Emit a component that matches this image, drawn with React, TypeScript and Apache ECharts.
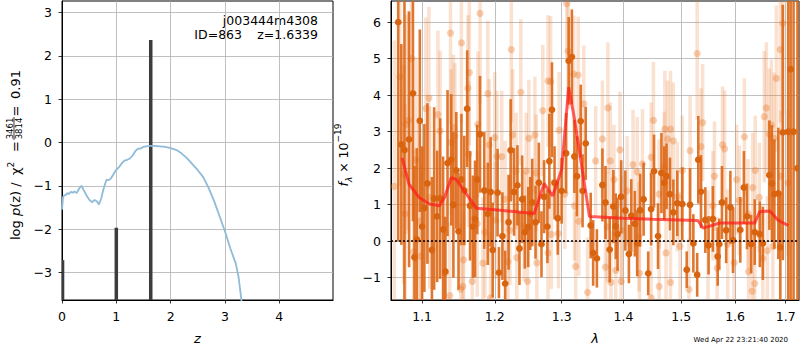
import React, { useEffect, useRef } from 'react';
import * as echarts from 'echarts';

// ---------- left panel: redshift PDF ----------
const PZ_CURVE: [number, number][] = [
  [0.0, -1.55], [0.02, -1.25], [0.05, -1.22], [0.08, -1.2], [0.1, -1.17], [0.13, -1.19], [0.16, -1.14],
  [0.2, -1.16], [0.23, -1.13], [0.27, -1.17], [0.3, -1.1], [0.33, -1.04], [0.36, -1.0], [0.4, -1.1],
  [0.45, -1.22], [0.5, -1.32], [0.55, -1.38], [0.6, -1.33], [0.64, -1.36], [0.68, -1.43], [0.72, -1.3],
  [0.76, -1.1], [0.8, -0.93], [0.82, -0.86], [0.86, -0.87], [0.9, -0.83], [0.95, -0.73], [1.0, -0.63],
  [1.05, -0.57], [1.1, -0.48], [1.15, -0.42], [1.2, -0.4], [1.25, -0.37], [1.3, -0.3], [1.35, -0.2],
  [1.4, -0.14], [1.45, -0.14], [1.5, -0.1], [1.55, -0.09], [1.6, -0.08], [1.7, -0.08], [1.8, -0.09],
  [1.9, -0.1], [2.0, -0.13], [2.1, -0.17], [2.2, -0.25], [2.3, -0.36], [2.4, -0.5], [2.5, -0.64],
  [2.6, -0.8], [2.7, -1.05], [2.8, -1.35], [2.9, -1.7], [3.0, -2.05], [3.1, -2.45], [3.2, -2.8],
  [3.25, -3.1], [3.3, -3.6], [3.35, -4.2],
];
const PEAK_Z = [0.01, 1.0, 1.634];
const PEAK_LOGP = [-2.72, -1.97, 2.37];
const LEFT_X_TICKS = [0, 1, 2, 3, 4];
const LEFT_Y_TICKS = [-3, -2, -1, 0, 1, 2, 3];
const LEFT_X_RANGE = [0, 4.99];
const LEFT_Y_RANGE = [-3.64, 3.27];

// ---------- right panel: spectrum ----------
const RIGHT_X_TICKS = [1.1, 1.2, 1.3, 1.4, 1.5, 1.6, 1.7];
const RIGHT_Y_TICKS = [-1, 0, 1, 2, 3, 4, 5, 6];
const RIGHT_X_RANGE = [1.0598, 1.7272];
const RIGHT_Y_RANGE = [-1.61, 6.58];

const MODEL: [number, number][] = [
  [1.074, 2.28], [1.083, 1.56], [1.096, 1.2], [1.11, 1.02], [1.123, 0.97], [1.13, 1.2], [1.139, 1.74],
  [1.146, 1.69], [1.16, 1.29], [1.174, 0.9], [1.2, 0.86], [1.258, 0.76], [1.273, 1.58], [1.286, 1.24],
  [1.3, 1.96], [1.311, 4.22], [1.32, 3.36], [1.332, 2.01], [1.344, 0.68], [1.4, 0.63], [1.45, 0.6],
  [1.53, 0.57], [1.54, 0.36], [1.571, 0.5], [1.638, 0.5], [1.648, 0.81], [1.668, 0.83], [1.685, 0.57],
  [1.705, 0.43],
];

// [lambda, flux, error]
const DARK: [number, number, number][] = [
  [1.069, 6.0, 6], [1.073, 2.65, 2.75], [1.077, 2.5, 4.5], [1.083, 2.79, 3.5], [1.088, 4.05, 3.5],
  [1.09, -0.44, 2.5], [1.093, 0.05, 2.5], [1.097, 3.3, 2.5], [1.1, 0.4, 2.2], [1.103, 0.91, 2.3],
  [1.107, 1.58, 2.2], [1.113, -0.24, 2.0], [1.116, 1.17, 2.5], [1.12, 0.68, 1.8], [1.124, 1.17, 2.2],
  [1.128, 0.32, 2.0], [1.131, -0.83, 1.5], [1.134, 2.14, 2.0], [1.139, 2.23, 1.8], [1.142, 1.0, 2.0],
  [1.146, 1.94, 1.6], [1.149, 0.27, 1.6], [1.153, 1.69, 1.8], [1.157, 1.39, 1.5], [1.161, 3.63, 1.6],
  [1.165, 0.97, 1.5], [1.169, 0.4, 1.4], [1.172, 0.61, 1.6], [1.175, 1.69, 1.5], [1.179, 2.93, 1.6],
  [1.185, 1.39, 1.6], [1.19, 0.75, 1.4], [1.194, 1.35, 1.5], [1.197, -0.24, 1.3],
  [1.204, 1.33, 1.2], [1.206, -0.86, 0.7], [1.211, 0.14, 1.2], [1.215, -1.16, 0.9], [1.22, 0.52, 1.3],
  [1.223, 2.49, 1.4], [1.228, 1.35, 1.2], [1.233, 1.53, 1.1], [1.236, -0.2, 1.0], [1.24, 1.15, 1.2],
  [1.244, 0.25, 1.0], [1.249, 0.39, 1.1], [1.252, 0.76, 1.0], [1.255, 1.06, 1.2], [1.26, 0.52, 1.0],
  [1.265, 1.6, 1.1], [1.269, -0.08, 0.9], [1.273, 1.22, 1.0], [1.278, 0.4, 1.0], [1.281, 2.19, 1.3],
  [1.285, 3.6, 1.3], [1.289, 1.6, 1.0], [1.294, 0.63, 1.0], [1.3, 1.38, 0.9], [1.307, 2.41, 1.1],
  [1.311, 4.94, 1.2], [1.316, 5.05, 1.3], [1.32, 2.32, 1.0], [1.324, 1.78, 1.1], [1.33, 3.29, 1.0],
  [1.333, 1.38, 1.0], [1.338, 2.68, 1.0], [1.346, 0.43, 0.9], [1.35, -0.32, 0.9], [1.356, -0.47, 0.8],
  [1.365, 1.54, 1.0], [1.37, 1.06, 1.0], [1.377, -0.23, 0.9], [1.383, 0.95, 1.0], [1.387, 0.41, 0.9],
  [1.39, 0.19, 1.0], [1.396, 1.22, 1.0], [1.403, 0.84, 1.1], [1.409, -0.35, 0.8], [1.413, 0.7, 1.0],
  [1.419, 0.48, 0.9], [1.423, -0.06, 0.9], [1.428, 0.85, 1.0], [1.434, 1.15, 1.0], [1.442, -0.88, 0.6],
  [1.447, 0.88, 1.0], [1.452, 1.92, 1.0], [1.459, 0.14, 0.9], [1.465, 1.87, 1.1], [1.47, 1.6, 1.0],
  [1.474, 1.78, 0.9], [1.48, 1.29, 1.0], [1.486, 0.79, 0.9], [1.493, 1.04, 0.9], [1.502, 1.02, 1.0],
  [1.51, -0.78, 0.5], [1.516, 1.0, 1.0], [1.522, -0.06, 0.8], [1.529, -0.92, 0.6], [1.531, 2.23, 1.2],
  [1.536, 1.36, 1.0], [1.544, 0.58, 0.9], [1.55, -0.11, 0.8], [1.558, 0.61, 0.9], [1.567, -0.42, 0.8],
  [1.57, -0.08, 0.7], [1.575, 1.06, 1.0], [1.583, 0.3, 0.9], [1.591, 0.93, 1.0], [1.596, 0.03, 0.9],
  [1.61, 0.31, 0.9], [1.617, 1.47, 1.0], [1.623, 0.68, 0.9], [1.631, -0.08, 0.8], [1.638, 0.25, 0.9],
  [1.648, 0.19, 0.9], [1.654, -0.06, 1.0], [1.667, 1.81, 1.5], [1.672, 1.58, 1.6], [1.677, 1.29, 1.5],
  [1.685, 1.31, 1.8], [1.689, -0.17, 1.5], [1.694, 2.98, 3.5], [1.705, 3.0, 8], [1.71, 4.71, 9],
  [1.716, 3.0, 9], [1.724, 2.0, 9],
];

const LIGHT: [number, number, number][] = [
  [1.064, 1.5, 4], [1.071, 4.5, 3], [1.086, 5.0, 3],
  [1.179, 6.24, 2.5], [1.138, 5.7, 2.5], [1.153, 5.43, 2.2], [1.164, 4.62, 2.0], [1.162, 4.19, 2.0],
  [1.109, 3.92, 2.5], [1.19, 4.04, 2.0], [1.105, 3.63, 2.5], [1.121, 3.47, 2.3], [1.082, 3.31, 3.0],
  [1.079, 3.2, 3.0], [1.176, 3.2, 2.0], [1.142, 3.11, 2.0], [1.124, 3.02, 2.2], [1.144, 2.88, 2.0],
  [1.139, 2.71, 2.0], [1.192, 2.64, 1.8], [1.163, 2.39, 2.0], [1.092, 2.23, 2.8], [1.076, 1.83, 3.0],
  [1.11, 1.2, 2.5], [1.096, 0.55, 2.8], [1.078, 0.75, 3.0], [1.175, 0.48, 2.0], [1.186, 0.25, 1.8],
  [1.089, -0.29, 2.8], [1.098, -0.41, 2.5], [1.156, -0.51, 2.0], [1.183, -0.6, 1.8], [1.131, -0.88, 2.0],
  [1.168, -1.1, 1.8], [1.155, -1.24, 2.0], [1.152, -1.31, 1.8], [1.137, -1.49, 2.0], [1.194, -1.55, 1.8],
  [1.224, 5.25, 2.0], [1.238, 4.08, 2.0], [1.2, 2.84, 1.8], [1.203, 2.32, 1.8], [1.21, 2.32, 1.8],
  [1.226, 2.91, 1.8], [1.25, 2.82, 1.6], [1.259, 2.91, 1.6], [1.271, 3.58, 1.8], [1.279, 4.39, 1.8],
  [1.283, 4.37, 1.8], [1.296, 3.04, 1.6], [1.31, 5.21, 1.6], [1.308, 6.51, 1.5], [1.319, 4.58, 1.6],
  [1.326, 4.55, 1.6], [1.335, 3.76, 1.6], [1.354, 2.2, 1.5], [1.261, 1.87, 1.6], [1.305, 1.29, 1.5],
  [1.246, 1.92, 1.6], [1.231, 1.92, 1.6], [1.215, 1.15, 1.6], [1.201, 0.58, 1.6], [1.222, 0.3, 1.5],
  [1.243, 0.4, 1.5], [1.284, 0.19, 1.5], [1.295, 0.21, 1.5], [1.32, 0.97, 1.5], [1.327, 0.55, 1.5],
  [1.232, -0.45, 1.5], [1.219, -0.56, 1.5], [1.262, -0.59, 1.5], [1.279, -0.32, 1.5], [1.248, -1.1, 1.5],
  [1.341, -1.4, 1.5], [1.322, -0.69, 1.5],
  [1.529, 5.14, 1.8], [1.374, 3.65, 1.8], [1.451, 3.31, 1.6], [1.471, 3.07, 1.6], [1.481, 3.07, 1.6],
  [1.476, 2.8, 1.6], [1.486, 2.75, 1.6], [1.365, 2.8, 1.6], [1.516, 2.48, 1.5], [1.394, 2.5, 1.6],
  [1.378, 2.2, 1.6], [1.416, 2.1, 1.5], [1.432, 2.12, 1.5], [1.447, 2.3, 1.5], [1.47, 2.05, 1.5],
  [1.502, 1.94, 1.5], [1.384, 1.69, 1.5], [1.423, 1.9, 1.5], [1.406, 1.38, 1.5], [1.461, 1.29, 1.5],
  [1.493, 1.22, 1.5], [1.373, 0.39, 1.5], [1.397, 0.3, 1.5], [1.426, 0.12, 1.5], [1.473, -0.32, 1.5],
  [1.498, -0.14, 1.5], [1.37, -0.71, 1.5], [1.387, -0.8, 1.5], [1.427, -0.88, 1.5], [1.461, -1.24, 1.4],
  [1.481, -1.13, 1.4], [1.514, -1.32, 1.4], [1.379, -1.13, 1.4], [1.396, -1.1, 1.4], [1.447, -1.55, 1.4],
  [1.689, 5.25, 2.0], [1.694, 5.97, 2.5], [1.681, 4.46, 2.0], [1.661, 3.65, 1.8], [1.657, 3.41, 1.8],
  [1.671, 3.18, 1.8], [1.667, 2.93, 1.8], [1.676, 2.82, 1.8], [1.618, 2.86, 1.6], [1.539, 3.25, 1.6],
  [1.536, 2.59, 1.6], [1.576, 2.64, 1.6], [1.58, 2.53, 1.6], [1.561, 1.78, 1.5], [1.603, 1.69, 1.5],
  [1.634, 1.47, 1.5], [1.639, 1.94, 1.5], [1.647, 1.2, 1.5], [1.69, 1.78, 1.8], [1.705, 1.6, 2.0],
  [1.558, 0.97, 1.5], [1.608, 1.12, 1.5], [1.625, 0.75, 1.5], [1.549, -0.11, 1.5], [1.586, -0.08, 1.5],
  [1.663, -0.26, 1.5], [1.674, -0.14, 1.5], [1.654, -0.47, 1.5], [1.598, -0.59, 1.5], [1.626, -0.83, 1.4],
  [1.638, -1.16, 1.4], [1.633, -1.37, 1.4], [1.566, -0.74, 1.4],
];

const FONT = 'DejaVu Sans';
const fmtNum = (v: number) => (v < 0 ? '\u2212' : '') + String(Math.abs(Math.round(v)));

function errorBars(lineW: number, stroke: string, r: number, fill: string) {
  return (_p: any, api: any) => {
    const x = api.value(0);
    const y = api.value(1);
    const e = api.value(2);
    const a = api.coord([x, y - e]);
    const b = api.coord([x, y + e]);
    const c = api.coord([x, y]);
    return {
      type: 'group',
      children: [
        { type: 'line', shape: { x1: a[0], y1: a[1], x2: b[0], y2: b[1] }, style: { stroke, lineWidth: lineW } },
        { type: 'circle', shape: { cx: c[0], cy: c[1], r }, style: { fill } },
      ],
    };
  };
}

function axisBase(extra: any) {
  return {
    type: 'value',
    axisLine: { show: true, onZero: false, lineStyle: { color: '#000', width: 1 } },
    splitLine: { show: true, lineStyle: { color: '#b0b0b0', width: 0.8 } },
    ...extra,
  };
}

function labelStyle(custom: number[], formatter: any, margin: number) {
  return { color: '#000', fontSize: 12.5, fontFamily: FONT, customValues: custom, formatter, margin };
}
function tickStyle(custom: number[]) {
  return { show: true, inside: false, length: 3.5, customValues: custom, lineStyle: { color: '#000', width: 0.8 } };
}

const textStyleBase = { fontFamily: FONT, fontSize: 12.5, fill: '#000' };
const mid = { verticalAlign: 'middle', textVerticalAlign: 'middle' };
const LBL = { ...textStyleBase, fontSize: 13, ...mid };

export default function App() {
  const ref = useRef<HTMLDivElement>(null);
  useEffect(() => {
    if (!ref.current) return;
    const chart = echarts.init(ref.current, undefined, { renderer: 'svg' });
    const lnTicks = RIGHT_X_TICKS.map((t) => Math.log(t));
    const option: any = {
      animation: false,
      backgroundColor: '#fff',
      grid: [
        { left: 62, top: 1, width: 271, height: 303, show: true, borderColor: '#000', borderWidth: 1, backgroundColor: 'transparent' },
        { left: 391, top: 1, width: 408, height: 303, show: true, borderColor: '#000', borderWidth: 1, backgroundColor: 'transparent' },
      ],
      xAxis: [
        axisBase({
          gridIndex: 0, min: LEFT_X_RANGE[0], max: LEFT_X_RANGE[1],
          axisLabel: labelStyle(LEFT_X_TICKS, fmtNum, 10),
          axisTick: tickStyle(LEFT_X_TICKS),
          name: 'z', nameLocation: 'middle', nameGap: 32,
          nameTextStyle: { fontStyle: 'italic', fontSize: 13, fontFamily: FONT, color: '#000' },
        }),
        axisBase({
          gridIndex: 1, min: Math.log(RIGHT_X_RANGE[0]), max: Math.log(RIGHT_X_RANGE[1]),
          axisLabel: labelStyle(lnTicks, (v: number) => Math.exp(v).toFixed(1), 10),
          axisTick: tickStyle(lnTicks),
          name: 'λ', nameLocation: 'middle', nameGap: 32,
          nameTextStyle: { fontStyle: 'italic', fontSize: 13, fontFamily: FONT, color: '#000' },
        }),
      ],
      yAxis: [
        axisBase({
          gridIndex: 0, min: LEFT_Y_RANGE[0], max: LEFT_Y_RANGE[1],
          axisLabel: labelStyle(LEFT_Y_TICKS, fmtNum, 10),
          axisTick: tickStyle(LEFT_Y_TICKS),
        }),
        axisBase({
          gridIndex: 1, min: RIGHT_Y_RANGE[0], max: RIGHT_Y_RANGE[1],
          axisLabel: labelStyle(RIGHT_Y_TICKS, fmtNum, 10),
          axisTick: tickStyle(RIGHT_Y_TICKS),
        }),
      ],
      series: [
        {
          type: 'line', xAxisIndex: 0, yAxisIndex: 0, data: PZ_CURVE, showSymbol: false, clip: true,
          lineStyle: { color: '#8fbbd9', width: 1.8 }, silent: true,
        },
        {
          type: 'custom', xAxisIndex: 0, yAxisIndex: 0, clip: true,
          data: PEAK_Z.map((z, i) => [z, PEAK_LOGP[i]]),
          renderItem: (_p: any, api: any) => {
            const a = api.coord([api.value(0), LEFT_Y_RANGE[0]]);
            const b = api.coord([api.value(0), api.value(1)]);
            return { type: 'line', shape: { x1: a[0], y1: a[1], x2: b[0], y2: b[1] }, style: { stroke: '#3c3c3c', lineWidth: 3.5 } };
          },
        },
        {
          type: 'custom', xAxisIndex: 1, yAxisIndex: 1, clip: true,
          data: LIGHT.map(([l, f, e]) => [Math.log(l), f, e]),
          renderItem: errorBars(3.5, 'rgba(232,120,40,0.22)', 3.6, 'rgba(232,120,40,0.35)'),
        },
        {
          type: 'custom', xAxisIndex: 1, yAxisIndex: 1, clip: true,
          data: DARK.map(([l, f, e]) => [Math.log(l), f, e]),
          renderItem: errorBars(2.6, 'rgba(220,100,18,0.88)', 3.4, '#d9640f'),
        },
        {
          type: 'line', xAxisIndex: 1, yAxisIndex: 1, showSymbol: false, clip: true,
          data: MODEL.map(([l, f]) => [Math.log(l), f]),
          lineStyle: { color: '#ff1a1a', width: 3, opacity: 0.7 },
          markLine: {
            silent: true, symbol: ['none', 'none'], label: { show: false },
            lineStyle: { color: '#000', type: [2, 2], width: 1.6, opacity: 1 },
            data: [{ yAxis: 0 }],
          },
        },
      ],
      graphic: [
        { type: 'text', x: 318, y: 20, style: { ...textStyleBase, ...mid, text: 'j003444m4308', align: 'right', textAlign: 'right' } },
        { type: 'text', x: 242, y: 34, style: { ...textStyleBase, ...mid, text: 'ID=863', align: 'right', textAlign: 'right' } },
        { type: 'text', x: 318, y: 34, style: { ...textStyleBase, ...mid, text: 'z=1.6339', align: 'right', textAlign: 'right' } },
        {
          type: 'group', x: 14, y: 240, rotation: Math.PI / 2,
          children: [
            {
              type: 'text', x: 0, y: 1.5,
              style: {
                ...LBL, text: 'log {i|p}(z) /', align: 'left', textAlign: 'left', lineHeight: 18,
                rich: { i: { fontFamily: FONT, fontSize: 13, fontStyle: 'italic', fill: '#000', lineHeight: 18 } },
              },
            },
            {
              type: 'text', x: 65, y: 1.5,
              style: {
                ...LBL, text: 'χ{sup|2}', align: 'left', textAlign: 'left', lineHeight: 18,
                rich: { sup: { fontFamily: FONT, fontSize: 9, fill: '#000', verticalAlign: 'top', lineHeight: 12 } },
              },
            },
            { type: 'text', x: 93.5, y: 1.5, style: { ...LBL, text: '=', align: 'center', textAlign: 'center' } },
            { type: 'text', x: 111.5, y: -4.2, style: { ...textStyleBase, ...mid, fontSize: 8.5, text: '3461', align: 'center', textAlign: 'center' } },
            { type: 'line', shape: { x1: 100, y1: 0, x2: 123, y2: 0 }, style: { stroke: '#000', lineWidth: 0.8 } },
            { type: 'text', x: 111.5, y: 4.6, style: { ...textStyleBase, ...mid, fontSize: 8.5, text: '3814', align: 'center', textAlign: 'center' } },
            { type: 'text', x: 129, y: 1.5, style: { ...LBL, text: '=', align: 'center', textAlign: 'center' } },
            { type: 'text', x: 170, y: 1.5, style: { ...LBL, text: '0.91', align: 'right', textAlign: 'right' } },
          ],
        },
        {
          type: 'group', x: 343, y: 155, rotation: Math.PI / 2,
          children: [
            {
              type: 'text', x: 0, y: 0,
              style: {
                ...textStyleBase, ...mid, text: '{i|f}{sub|λ} × 10{sup|−19}', align: 'center', textAlign: 'center', lineHeight: 20,
                rich: {
                  i: { fontFamily: FONT, fontSize: 12.5, fontStyle: 'italic', fill: '#000', lineHeight: 20 },
                  sub: { fontFamily: FONT, fontSize: 9, fontStyle: 'italic', fill: '#000', verticalAlign: 'bottom', lineHeight: 13 },
                  sup: { fontFamily: FONT, fontSize: 9, fill: '#000', verticalAlign: 'top', lineHeight: 12 },
                },
              },
            },
          ],
        },
        { type: 'text', x: 788, y: 340, style: { fontFamily: FONT, fontSize: 7, fill: '#000', ...mid, text: 'Wed Apr 22 23:21:40 2020', align: 'right', textAlign: 'right' } },
      ],
    };
    chart.setOption(option);
    return () => chart.dispose();
  }, []);
  return <div ref={ref} style={{ position: 'absolute', left: 0, top: 0, width: 800, height: 350 }} />;
}
